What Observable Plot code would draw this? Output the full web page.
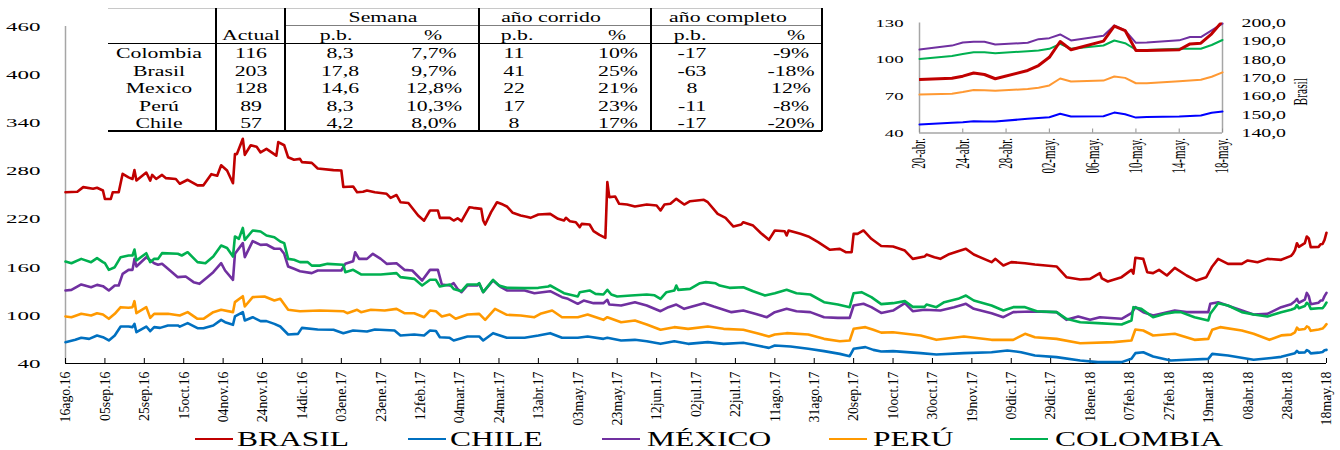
<!DOCTYPE html>
<html><head><meta charset="utf-8">
<script src="https://cdn.jsdelivr.net/npm/d3@7"></script>
<script src="https://cdn.jsdelivr.net/npm/@observablehq/plot@0.6"></script>
<style>
body{margin:0;background:#fff;font-family:"Liberation Serif",serif;}
#wrap{position:relative;width:1340px;height:450px;overflow:hidden;background:#fff;}
.abs{position:absolute;}
.cell{position:absolute;font-size:15px;line-height:15px;white-space:nowrap;color:#000;transform:translate(-50%,-50%) scaleX(1.45);}
.hl{position:absolute;}
.legtxt{position:absolute;font-size:21px;line-height:20px;white-space:nowrap;color:#000;transform:scaleX(1.5);transform-origin:left center;}
.legsw{position:absolute;height:2.5px;width:38px;}
</style></head><body><div id="wrap"></div>
<script>
// ---------------- DATA ----------------
const START = "2016-08-16";
const seriesNames = ["BRASIL","CHILE","MÉXICO","PERÚ","COLOMBIA"];
// [days since START, spread in basis points]
const brasil = [[0,253.5],[6,254],[9,259.8],[14,257.7],[16,259],[19,255.6],[20,245],[23,245],[24,253.5],[27,253.5],[29,276.4],[32,272],[34,270],[35,281],[36,268],[41,278],[43,268],[44,275],[46,270],[49,275],[51,271],[56,270],[58,264],[62,269],[67,262],[70,262],[74,276],[77,274],[79,287],[82,280.5],[85,264.7],[86,301],[87,301],[90,320],[91,300],[94,312],[97,310],[99,303],[102,307.5],[107,299],[108,316],[111,312],[113,297],[116,294],[119,295],[120,291],[125,290],[128,283],[136,281],[140,280.5],[141,260],[146,260.6],[148,253.5],[151,254],[153,255.6],[157,253.5],[163,251.5],[165,246.5],[168,250],[170,241],[174,240],[179,224.4],[182,218],[185,230.7],[189,230.7],[190,221.5],[195,221.5],[197,218.2],[199,221],[201,217.4],[205,234.8],[207,234],[211,232.7],[212,218.2],[213,213.2],[216,228.6],[219,241],[222,238.1],[224,235.7],[227,227.8],[231,224.4],[234,223],[236,221.5],[240,225.7],[246,226.5],[250,220.3],[253,218.2],[254,221.5],[256,217.4],[259,216.1],[261,209.9],[262,214],[266,213.2],[268,204.9],[271,200.3],[274,196.6],[275,266],[276,247.3],[279,248.1],[281,239],[285,238.1],[289,235.7],[295,238.1],[300,236.9],[302,230.7],[304,238.1],[307,239],[310,245.2],[314,238.1],[317,242.3],[324,244],[326,241],[331,226.5],[335,221.5],[339,210.7],[343,213.2],[344,216.1],[349,211.9],[353,202.4],[357,194.1],[360,205.8],[365,204.9],[366,199.5],[367,205.8],[373,201.6],[377,198.3],[382,191.2],[388,181.7],[393,182.9],[396,178.7],[399,178.7],[400,201.6],[402,201.6],[405,205.8],[409,195.4],[414,186.5],[420,185.8],[426,180.8],[430,170.4],[436,173.3],[437,175.8],[441,172.5],[444,170.4],[448,175.8],[453,180],[457,182.9],[461,175.8],[470,166.3],[472,170.4],[476,162.1],[480,166.3],[487,165],[492,163.4],[503,160.9],[508,147.6],[515,144.7],[520,145.5],[525,152.6],[526,146],[529,142.2],[536,147.6],[541,156.7],[542,152],[543,171.7],[547,170.4],[549,153.8],[552,152.6],[555,156.7],[559,149.7],[563,159.2],[569,149.7],[574,143.4],[579,147.6],[582,160.9],[585,170.4],[590,164.2],[597,164.2],[600,168.4],[605,166.3],[610,170.4],[617,169.2],[622,174.1],[623,176.8],[624,181.3],[625,189.9],[626,185.4],[629,190.1],[630,198.3],[631,195.9],[632,185],[636,185.4],[637,188.6],[638,189],[639,194.1],[640,203]];
const chile = [[0,66.6],[5,69.5],[8,72],[12,70.7],[16,74.9],[19,72.8],[22,68.7],[25,74.9],[28,86.1],[32,86.1],[34,85.3],[35,89.4],[36,79],[41,86.1],[43,80.3],[45,85.3],[48,84.4],[52,87.4],[57,87.4],[58,86],[62,90.3],[67,84],[70,84],[75,87.4],[79,94.4],[81,91.5],[85,88.2],[86,98.6],[90,104],[91,93.6],[95,97.7],[99,92.8],[102,92.8],[106,89.4],[109,86.1],[113,76.1],[118,76.9],[120,84.4],[128,82.4],[136,82],[141,77.8],[146,81.1],[153,79.9],[157,82.4],[167,81.1],[170,74.9],[177,76.1],[182,74.9],[185,81.1],[188,80.5],[190,72.8],[195,72],[197,68.7],[204,73.6],[210,73.6],[212,68.7],[217,77.8],[224,72],[233,72],[240,74.9],[246,77.8],[252,72],[260,72],[265,73.6],[273,70.7],[275,72],[282,68.7],[289,69.5],[295,67.8],[302,64.5],[309,67.8],[316,64.5],[326,66.6],[334,64.5],[344,65.8],[351,62.4],[357,59.5],[360,62.4],[368,61.2],[377,58.3],[385,55.4],[393,52],[398,49.1],[400,58.3],[406,60.4],[410,57],[414,55],[420,55.4],[434,52.9],[442,51.2],[456,52.9],[470,54.1],[478,56.2],[485,54.1],[492,50],[503,47.9],[515,43.7],[524,41.7],[536,41.7],[541,45.8],[543,52.9],[547,54.1],[552,48.7],[561,43.7],[569,44.6],[580,45.8],[582,52],[590,50],[603,44.6],[612,46.9],[617,48.3],[622,51.6],[624,52.9],[625,55.7],[626,53.5],[629,53.7],[630,56.7],[631,55.3],[632,52.6],[636,53.5],[638,54.3],[639,56.5],[640,57]];
const mexico = [[0,131],[3,131.8],[8,138.5],[13,135.1],[16,138],[19,136.4],[22,131],[25,137.2],[27,137.2],[29,151.7],[32,156.7],[34,156.7],[35,170.4],[36,160.9],[41,172.5],[45,165],[47,163],[49,164.2],[52,158],[57,147.6],[61,148.4],[65,141.4],[68,139.3],[72,147.6],[75,153.8],[79,165],[81,155.9],[85,144.3],[86,176.7],[90,190],[91,172.5],[95,192.5],[99,187.9],[102,188.3],[106,183],[109,183],[111,176.7],[113,160.9],[116,158],[119,155],[125,152.6],[128,155.9],[140,155.9],[142,164.2],[146,167.5],[147,178.7],[149,170.4],[153,170.4],[156,176.7],[160,170.4],[163,164.2],[168,165],[172,156.7],[176,155.9],[181,143.4],[185,156.7],[189,156.7],[191,138.5],[195,137.2],[197,140.1],[199,133],[201,128.9],[204,137.2],[209,137.2],[210,139.3],[212,128.9],[217,143.4],[221,135.1],[224,131],[233,131],[238,127.6],[246,130.1],[252,122.7],[255,120.6],[260,114.4],[263,118.5],[268,115.2],[273,115.2],[275,119.3],[276,113.5],[282,112.3],[289,116.4],[295,112.3],[302,105.2],[306,110.2],[310,113.5],[314,108.1],[324,115.2],[329,111],[338,104],[344,106],[350,101.9],[356,97.7],[360,104],[366,108.1],[371,105.2],[378,104],[385,97.7],[392,96.9],[398,96.9],[400,112.3],[405,114.4],[409,110.2],[414,103],[420,106],[426,115.2],[430,105.2],[436,106.9],[444,106],[451,110.2],[457,114.4],[461,108.1],[470,102.7],[476,97.7],[481,104],[491,104.8],[503,104],[508,94.4],[514,98.6],[520,94.4],[525,97.7],[536,95.7],[541,102.7],[543,110.2],[547,104],[552,99.8],[563,106],[569,104],[580,104],[581,114.4],[585,116.4],[593,109.4],[603,101.1],[610,101.9],[617,110.2],[622,113.8],[624,117.6],[625,120.6],[626,115.7],[629,119.5],[630,128],[631,123.9],[632,113.8],[636,115.8],[637,118.5],[638,118.5],[639,124],[640,128]];
const peru = [[0,98.6],[3,97.7],[8,101.9],[13,99.8],[16,102.7],[19,101.1],[22,95.7],[25,101.9],[28,110.2],[32,109.4],[34,110.2],[35,117.7],[36,102.7],[41,110.2],[43,96.9],[45,101.9],[52,101.9],[58,99.8],[62,104],[67,95.7],[70,95.7],[75,104],[79,106.9],[85,104],[86,116.5],[90,123.9],[91,111],[95,122.7],[101,123.5],[106,118.5],[109,120.6],[113,106.9],[119,105.2],[129,106],[141,105.2],[143,102.7],[148,106.9],[150,104],[155,106.9],[162,106],[168,108.1],[172,102.7],[177,102.7],[182,97.7],[185,106],[188,105.2],[191,98.6],[195,101.1],[198,95.7],[204,101.1],[210,101.9],[213,94.4],[218,108.1],[224,100.7],[231,99.8],[238,97.7],[241,101.9],[247,106],[252,97.7],[260,97.7],[265,101.1],[273,94.4],[275,97.7],[282,91.5],[289,93.6],[295,88.6],[302,82],[309,85.3],[316,83.2],[326,86.1],[334,83.2],[344,82],[351,77.8],[357,73.6],[360,76.1],[366,77.8],[377,76.1],[385,70.7],[393,67.8],[398,68.7],[400,83.2],[406,85.3],[410,82],[414,78.5],[420,79],[434,74.9],[442,69.5],[456,73.6],[470,69.5],[481,69.5],[487,77],[492,72.8],[503,70.7],[515,65.3],[532,66.6],[541,68.7],[543,82.4],[547,81.1],[552,74.9],[563,77],[573,69.5],[580,70.7],[582,82],[586,85.3],[597,81.1],[603,77],[611,69.5],[617,75],[622,76],[624,78.9],[625,84.6],[626,82.1],[629,82.9],[630,86.2],[631,85.1],[632,80.7],[636,82.4],[638,83.5],[639,86],[640,89]];
const colombia = [[0,167.1],[3,165],[8,170.4],[13,166.3],[16,171.3],[19,166.3],[20,165],[22,156.7],[25,160],[28,172.5],[32,174.6],[34,174.6],[35,182],[36,168.4],[41,177.5],[43,166.3],[45,170.4],[47,170.4],[49,177.5],[57,176.7],[59,174.6],[62,178.7],[67,166.3],[71,165],[75,173.3],[79,187],[82,184],[85,173.3],[86,198.3],[88,195.4],[90,209],[91,194],[95,205.8],[99,204.5],[102,199.5],[106,197.4],[109,192],[111,190],[113,170.4],[116,169.2],[119,166.3],[123,166.3],[125,162],[129,162],[133,164.2],[141,163],[142,153.8],[146,156.7],[150,151],[160,151],[168,152.6],[170,147.6],[177,145.5],[181,137.2],[185,144.3],[188,144.3],[190,136],[195,138.5],[197,133],[201,130.1],[204,138.5],[209,138.5],[210,140.1],[212,128.9],[217,144.3],[220,137.2],[224,134.3],[233,133.9],[240,134.3],[245,136],[246,137.2],[250,131.8],[253,127.6],[260,123.5],[261,128.9],[266,131],[269,126.8],[273,126],[275,131.8],[277,126],[280,123.5],[287,124.7],[295,126],[299,125],[302,120.6],[305,128.9],[309,131],[310,137.2],[311,131.8],[317,133],[322,140.1],[325,141.4],[330,140],[332,137.2],[337,134.3],[344,135.1],[349,130.1],[355,124.7],[360,127.6],[366,131.8],[371,127.6],[378,126],[385,116.4],[392,113.5],[398,110.2],[400,127.6],[404,128.9],[409,122.7],[414,114],[420,115.2],[426,117.7],[430,110.6],[436,110.6],[437,113.5],[442,110.2],[446,116.4],[453,120.6],[457,124.7],[461,118.5],[470,112.3],[476,106],[481,110.2],[487,110.2],[493,105.2],[503,104],[508,95.7],[515,91.5],[524,90.3],[536,88.6],[541,93.6],[542,110.2],[546,108.1],[552,97.7],[558,101.9],[563,104],[566,104],[573,97.7],[580,93.6],[581,101.9],[585,115.2],[590,112.3],[597,104],[603,101.1],[610,98.6],[617,104],[622,106.9],[624,108.9],[625,112.9],[626,108.9],[629,111.6],[630,115.7],[631,113.5],[632,108.1],[636,108.9],[638,108.9],[639,112],[640,116]];

const yTicks = [40,100,160,220,280,340,400,460];
const xTickLabels = ["16ago.16","05sep.16","25sep.16","15oct.16","04nov.16","24nov.16","14dic.16","03ene.17","23ene.17","12feb.17","04mar.17","24mar.17","13abr.17","03may.17","23may.17","12jun.17","02jul.17","22jul.17","11ago.17","31ago.17","20sep.17","10oct.17","30oct.17","19nov.17","09dic.17","29dic.17","18ene.18","07feb.18","27feb.18","19mar.18","08abr.18","28abr.18","18may.18"];

// Inset (last four weeks)
const insetDates = ["2018-04-20","2018-04-23","2018-04-24","2018-04-25","2018-04-26","2018-04-27","2018-04-30","2018-05-01","2018-05-02","2018-05-03","2018-05-04","2018-05-07","2018-05-08","2018-05-09","2018-05-10","2018-05-11","2018-05-14","2018-05-15","2018-05-16","2018-05-17","2018-05-18"];
const insetMexico   = [108.3,111.5,114,114.6,114.6,112.4,113.8,116.8,117.6,120.6,115.7,119.5,128,123.9,113.8,114,115.8,118.5,118.5,124,129.5];
const insetColombia = [100.6,103,104.7,106,106,105.2,106.9,107.5,108.9,112.9,108.9,111.6,115.7,113.5,108.1,108,108.9,108.9,108.9,112,116.1];
const insetPeru     = [71.4,72.2,73.5,75.1,75,74.5,76,77,78.9,84.6,82.1,82.9,86.2,85.1,80.7,80.7,82.4,83,83.5,86,89.6];
const insetChile    = [46.9,48.3,48.8,49.6,49.5,49.4,51.6,52.3,52.9,55.7,53.5,53.7,56.7,55.3,52.6,53,53.5,54,54.3,56.5,57.6];
const insetBrasil   = [169.2,169.9,171,172.7,171.9,169.6,174.1,176.8,181.3,189.9,185.4,190.1,198.3,195.9,185,185,185.4,188.6,189,194.1,201];
const insetTickDates  = ["2018-04-20","2018-04-24","2018-04-28","2018-05-02","2018-05-06","2018-05-10","2018-05-14","2018-05-18"];
const insetTickLabels = ["20-abr.","24-abr.","28-abr.","02-may.","06-may.","10-may.","14-may.","18-may."];
const insetLeftTicks  = [40,70,100,130];
const insetRightTicks = [140,150,160,170,180,190,200];

// Table
const tCountries   = ["Colombia","Brasil","Mexico","Perú","Chile"];
const tActual      = ["116","203","128","89","57"];
const tSemanaPb    = ["8,3","17,8","14,6","8,3","4,2"];
const tSemanaPct   = ["7,7%","9,7%","12,8%","10,3%","8,0%"];
const tCorridoPb   = ["11","41","22","17","8"];
const tCorridoPct  = ["10%","25%","21%","23%","17%"];
const tCompletoPb  = ["-17","-63","8","-11","-17"];
const tCompletoPct = ["-9%","-18%","12%","-8%","-20%"];

// ---------------- RENDER ----------------
const wrap = document.getElementById("wrap");
const serif = "'Liberation Serif', 'Times New Roman', serif";
const mainColors = ["#C00000","#0070C0","#7030A0","#FF9900","#00B050"];
const t0 = new Date(START + "T00:00:00Z");
const dayToDate = d => d3.utcDay.offset(t0, d);
const allSeries = [brasil, chile, mexico, peru, colombia];
const rows = allSeries.flatMap((s, k) => s.map(([d, v]) => ({date: dayToDate(d), value: v, name: seriesNames[k]})));
const xTicks = xTickLabels.map((_, i) => dayToDate(20 * i));
const xLabelMap = new Map(xTicks.map((d, i) => [+d, xTickLabels[i]]));

function stretch(svg, sel, sx, sy) {
  svg.querySelectorAll(sel).forEach(t => {
    t.setAttribute("transform", (t.getAttribute("transform") || "") + ` scale(${sx},${sy})`);
  });
}

const main = Plot.plot({
  width: 1340, height: 430,
  marginLeft: 65, marginRight: 14, marginTop: 26, marginBottom: 67,
  style: {fontFamily: serif, color: "#000", background: "transparent"},
  x: {type: "utc", domain: [t0, dayToDate(640)]},
  y: {domain: [40, 460]},
  color: {domain: seriesNames, range: mainColors},
  marks: [
    Plot.ruleX([t0], {stroke: "#a6a6a6", strokeWidth: 1.5}),
    Plot.axisY({ticks: yTicks, tickSize: 0, tickPadding: 25, fontSize: 13.5, label: null}),
    Plot.axisX({ticks: xTicks, tickSize: -5, tickFormat: () => "", label: null, stroke: "#000"}),
    Plot.axisX({ticks: xTicks, tickSize: 0, tickPadding: 8, tickRotate: -90, fontSize: 15, tickFormat: d => xLabelMap.get(+d), label: null}),
    Plot.ruleY([40], {stroke: "#000", strokeWidth: 1.2}),
    Plot.line(rows, {x: "date", y: "value", z: "name", stroke: "name", strokeWidth: 2.6, strokeLinejoin: "round"})
  ]
});
main.style.position = "absolute"; main.style.left = "0px"; main.style.top = "0px";
stretch(main, 'g[aria-label="y-axis tick label"] text', 1.7, 1);
stretch(main, 'g[aria-label="x-axis tick label"] text', 0.92, 1);
wrap.appendChild(main);

// ---- table ----
const tbl = document.createElement("div");
tbl.className = "abs";
tbl.style.cssText = "left:108px;top:8px;width:714px;height:123px;background:#fff;";
wrap.appendChild(tbl);
function line(x, y, w, h, c) {
  const e = document.createElement("div");
  e.className = "hl";
  e.style.cssText = `left:${x}px;top:${y}px;width:${w}px;height:${h}px;background:${c};`;
  wrap.appendChild(e);
}
function cell(txt, cx, cy) {
  const e = document.createElement("div");
  e.className = "cell";
  e.style.left = cx + "px"; e.style.top = cy + "px";
  e.textContent = txt;
  wrap.appendChild(e);
}
line(108, 8, 714, 1, "#c8c8c8");
line(285, 25, 537, 1, "#7f7f7f");
line(108, 43, 714, 1.2, "#000");
line(108, 130, 714, 1.5, "#000");
[215, 284, 478, 650, 821].forEach(x => line(x, 8, 1.6, 123, "#000"));
cell("Semana", 383, 17); cell("año corrido", 551, 17); cell("año completo", 728, 17);
cell("Actual", 251, 35); cell("p.b.", 336, 35); cell("%", 433, 35);
cell("p.b.", 517, 35); cell("%", 617, 35); cell("p.b.", 690, 35); cell("%", 796, 35);
const rowY = [53, 71, 88, 106, 123];
tCountries.forEach((c, i) => {
  const y = rowY[i];
  cell(c, 159, y); cell(tActual[i], 251, y);
  cell(tSemanaPb[i], 340, y); cell(tSemanaPct[i], 434, y);
  cell(tCorridoPb[i], 514, y); cell(tCorridoPct[i], 618, y);
  cell(tCompletoPb[i], 692, y); cell(tCompletoPct[i], 791, y);
});

// ---- inset ----
const iDates = insetDates.map(s => new Date(s + "T00:00:00Z"));
const iTicks = insetTickDates.map(s => new Date(s + "T00:00:00Z"));
const iLabelMap = new Map(iTicks.map((d, i) => [+d, insetTickLabels[i]]));
const insetNames = ["MÉXICO","COLOMBIA","PERÚ","CHILE"];
const insetColors = ["#7030A0","#00B050","#FF9933","#0000FF"];
const insetRows = [insetMexico, insetColombia, insetPeru, insetChile].flatMap((s, k) => s.map((v, i) => ({date: iDates[i], value: v, name: insetNames[k]})));
const iDim = {width: 450, height: 180, marginLeft: 59, marginRight: 88, marginTop: 22.5, marginBottom: 47.5};
const iXdom = [iDates[0], iDates[iDates.length - 1]];
const insetL = Plot.plot({
  ...iDim,
  style: {fontFamily: serif, color: "#000", background: "transparent"},
  x: {type: "utc", domain: iXdom}, y: {domain: [40, 130]},
  color: {domain: insetNames, range: insetColors},
  marks: [
    Plot.ruleX(iXdom, {stroke: "#a6a6a6", strokeWidth: 1.5}),
    Plot.ruleY([40], {stroke: "#a6a6a6", strokeWidth: 1.5}),
    Plot.axisY({ticks: insetLeftTicks, tickSize: 0, tickPadding: 16, fontSize: 11, label: null}),
    Plot.axisX({ticks: iTicks, tickSize: -4, tickFormat: () => "", stroke: "#909090", label: null}),
    Plot.axisX({ticks: iTicks, tickSize: 0, tickPadding: 5, tickRotate: -90, fontSize: 11, tickFormat: d => iLabelMap.get(+d), label: null}),
    Plot.line(insetRows, {x: "date", y: "value", z: "name", stroke: "name", strokeWidth: 2})
  ]
});
insetL.style.position = "absolute"; insetL.style.left = "860px"; insetL.style.top = "0px";
stretch(insetL, 'g[aria-label="y-axis tick label"] text', 1.7, 1);
stretch(insetL, 'g[aria-label="x-axis tick label"] text', 1, 1.7);
wrap.appendChild(insetL);

const insetR = Plot.plot({
  ...iDim,
  style: {fontFamily: serif, color: "#000", background: "transparent"},
  x: {type: "utc", domain: iXdom, axis: null}, y: {domain: [140, 200], axis: null},
  marks: [
    Plot.axisY({anchor: "right", ticks: insetRightTicks, tickSize: 0, tickPadding: 19, fontSize: 12, tickFormat: d => d.toFixed(1).replace(".", ","), label: null}),
    Plot.line(insetBrasil.map((v, i) => ({date: iDates[i], value: v})), {x: "date", y: "value", stroke: "#C00000", strokeWidth: 3, clip: true}),
    Plot.text(["Brasil"], {text: d => d, frameAnchor: "right", dx: 78, rotate: -90, fontSize: 11.5})
  ]
});
insetR.style.position = "absolute"; insetR.style.left = "860px"; insetR.style.top = "0px";
stretch(insetR, 'g[aria-label="y-axis tick label"] text', 1.65, 1);
stretch(insetR, 'g[aria-label="text"] text', 1, 1.7);
wrap.appendChild(insetR);

// ---- legend (below the svg) ----
const legendX = [[195, 237], [408, 450], [602, 647], [829, 873], [1010, 1055]];
seriesNames.forEach((n, i) => {
  const sw = document.createElement("div");
  sw.className = "legsw";
  sw.style.left = legendX[i][0] + "px"; sw.style.top = "437.5px"; sw.style.background = mainColors[i];
  wrap.appendChild(sw);
  const t = document.createElement("div");
  t.className = "legtxt";
  t.style.left = legendX[i][1] + "px"; t.style.top = "429px";
  t.textContent = n;
  wrap.appendChild(t);
});
</script></body></html>
